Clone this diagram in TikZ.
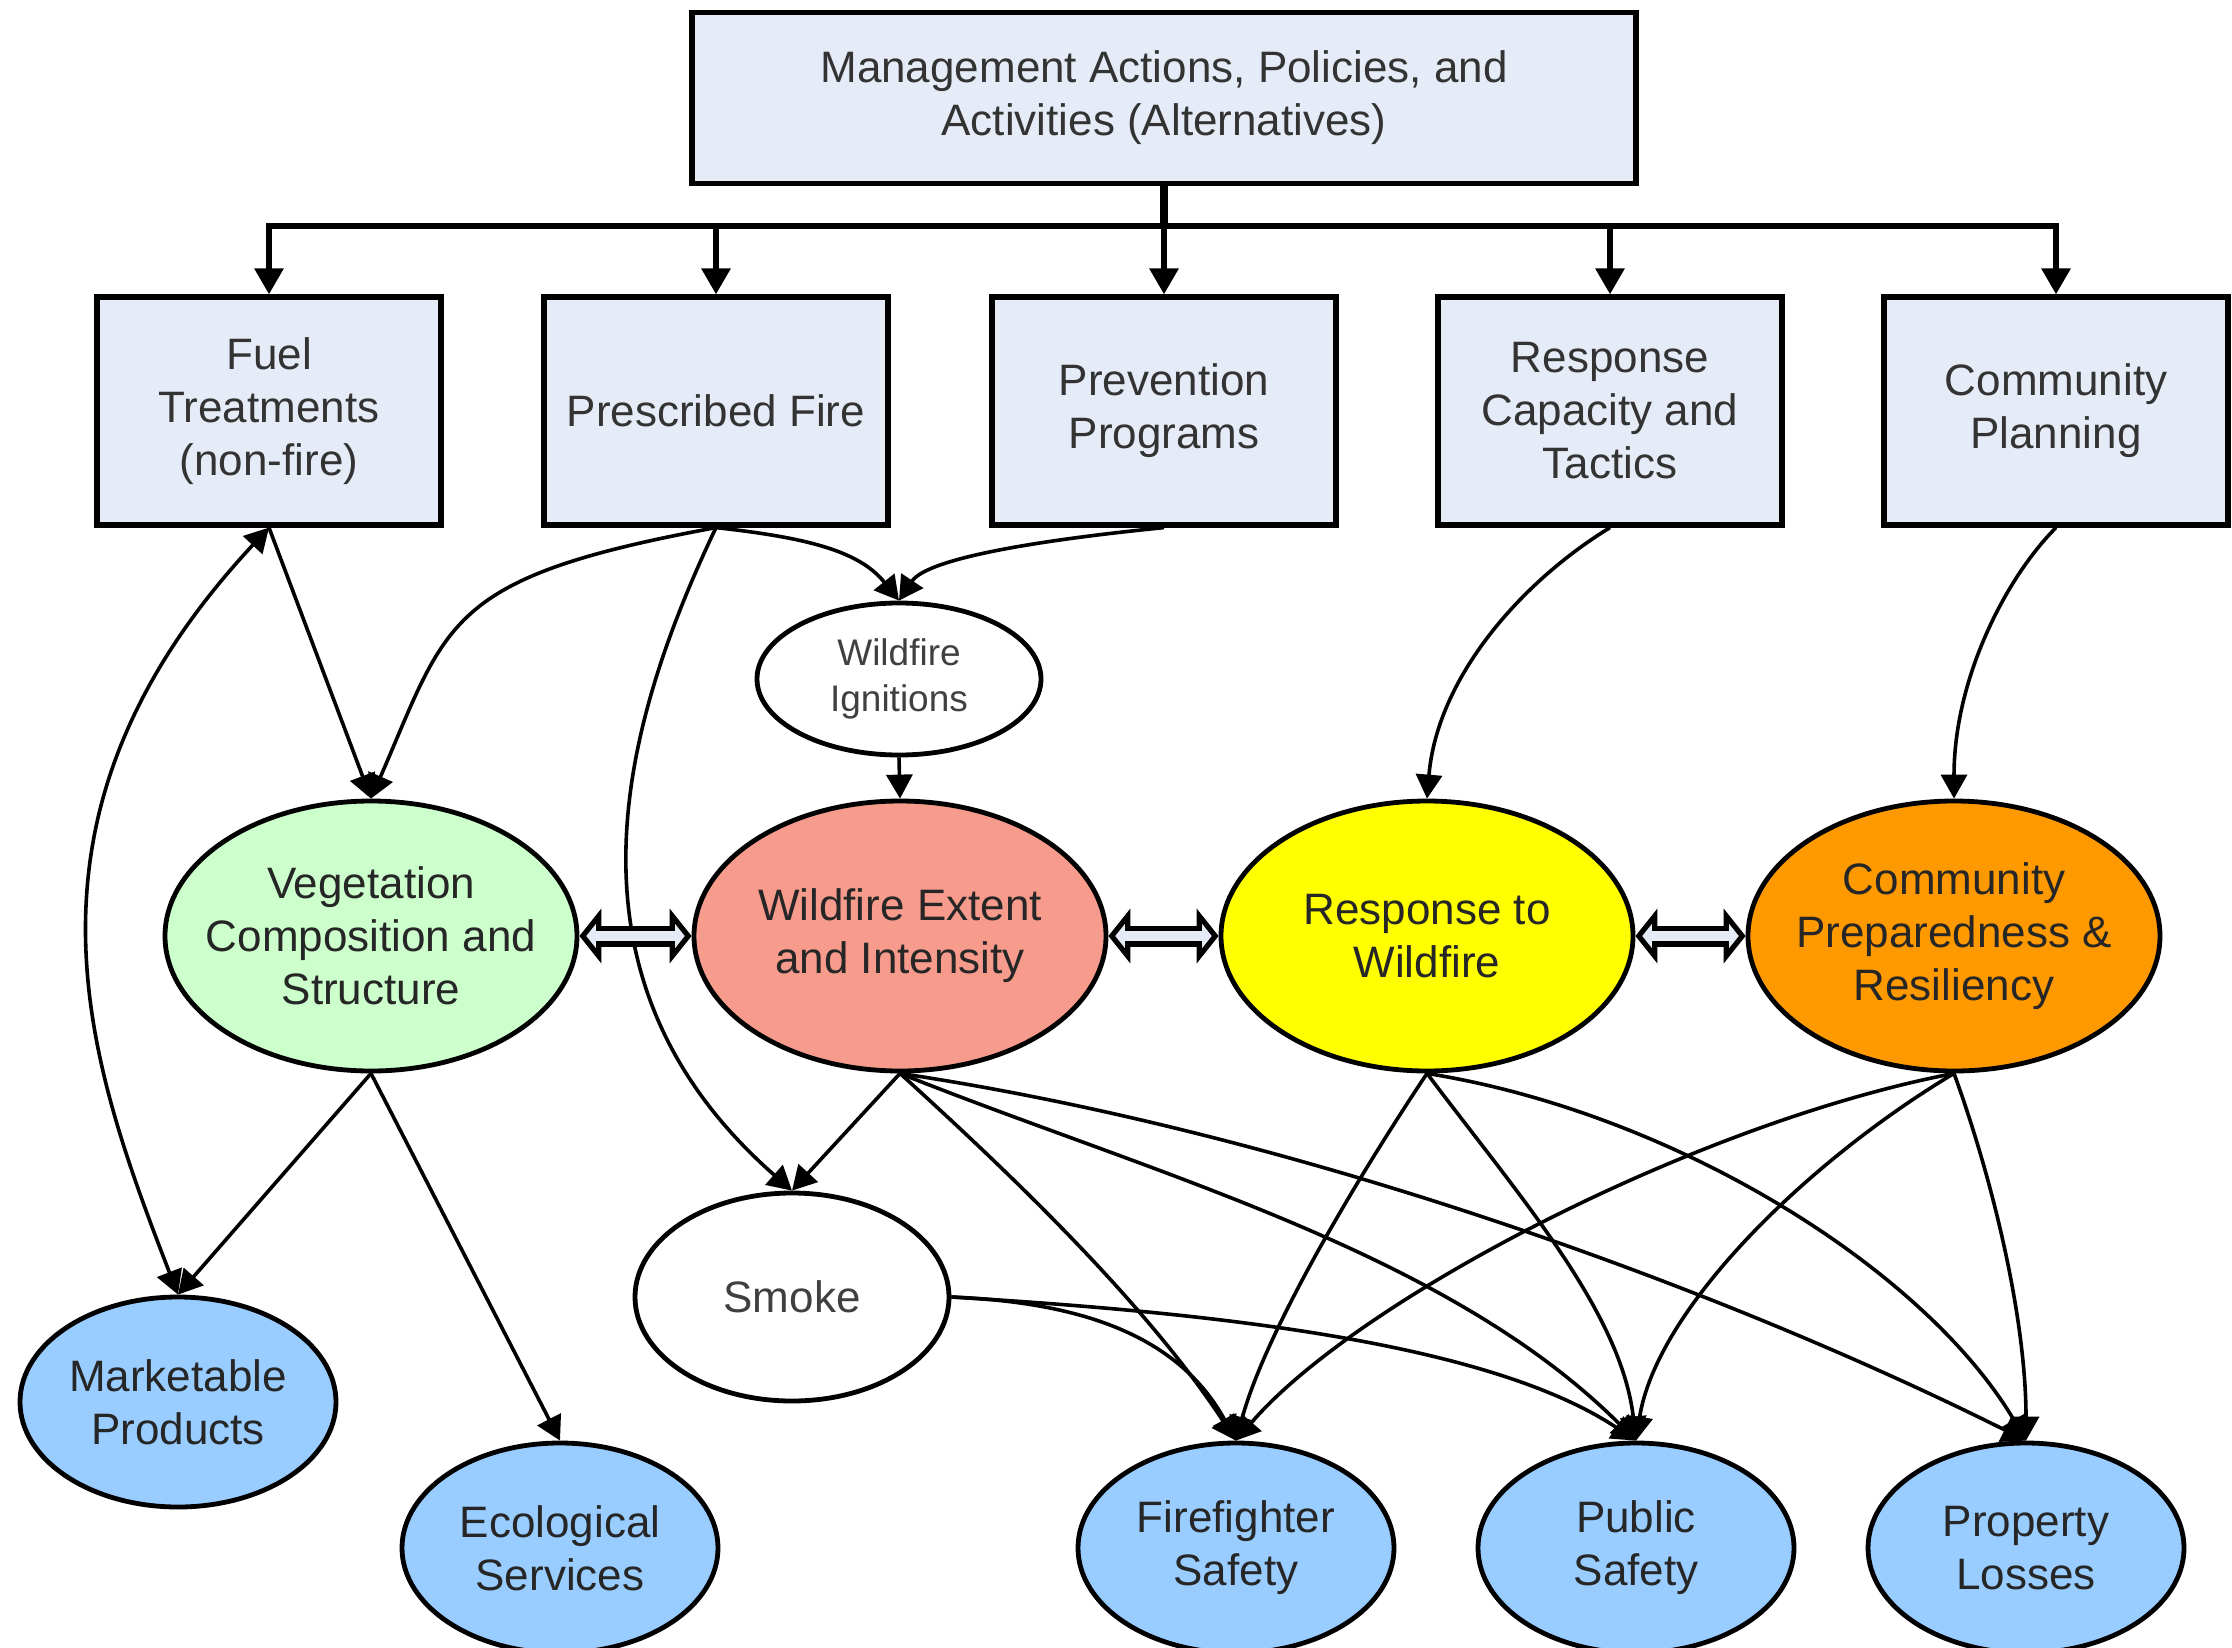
\documentclass[tikz,border=0pt]{standalone}
\usepackage{fontspec}
\setmainfont{Liberation Sans}
\usetikzlibrary{shapes.geometric,arrows.meta}

\definecolor{boxfill}{RGB}{230,236,247}
\definecolor{vegfill}{RGB}{204,255,204}
\definecolor{firefill}{RGB}{247,155,141}
\definecolor{respfill}{RGB}{255,255,0}
\definecolor{prepfill}{RGB}{255,153,0}
\definecolor{outfill}{RGB}{153,204,255}

\begin{document}
\begin{tikzpicture}[x=0.5pt,y=0.5pt,yscale=-1,xscale=1,
    actbox/.style={draw, line width=2.6pt, fill=boxfill, minimum width=172pt, minimum height=114pt,
        inner sep=0pt, align=center, text=black!80, font=\fontsize{22}{26.5}\selectfont},
    factor/.style={ellipse, draw, line width=2.4pt, minimum width=206pt, minimum height=135pt,
        inner xsep=-12pt, inner ysep=-10pt, align=center, text=black!85, font=\fontsize{22}{26.5}\selectfont},
    outcome/.style={factor, fill=outfill, minimum width=158pt, minimum height=105pt},
    link/.style={line width=1.8pt, -{Triangle[length=12pt,width=13pt]}},
    drop/.style={line width=3pt, -{Triangle[length=13pt,width=14pt]}},
    feedtip/.tip={Triangle[length=11pt,width=27pt,fill=boxfill,line width=2.6pt]},
    feedback/.style={line width=10.5pt, {feedtip}-{feedtip},
        postaction={draw=boxfill, line width=5pt, arrows=-, shorten <=6pt, shorten >=6pt}}]
    \useasboundingbox (0,0) rectangle (2232,1648);

    %Shape: Rectangle [top]
    \node [actbox, minimum width=472pt, minimum height=85.5pt] (top) at (1164,98)
        {Management Actions, Policies, and\\Activities (Alternatives)};
    %Shape: Rectangle [actions]
    \node [actbox] (fuel) at (269,411) {Fuel\\Treatments\\(non-fire)};
    \node [actbox] (presc) at (716,411) {Prescribed Fire};
    \node [actbox] (prev) at (1164,411) {Prevention\\Programs};
    \node [actbox] (resp) at (1610,411) {Response\\Capacity and\\Tactics};
    \node [actbox] (plan) at (2056,411) {Community\\Planning};

    %Shape: Ellipse [middle row]
    \node [factor, fill=white, minimum width=142pt, minimum height=76pt, text=black!75,
        font=\fontsize{18.5}{22.8}\selectfont] (ign) at (899,679) {Wildfire\\Ignitions};
    \node [factor, fill=vegfill] (veg) at (371,936) {Vegetation\\Composition and\\Structure};
    \node [factor, fill=firefill] (fire) at (900,936) {Wildfire Extent\\and Intensity};
    \node [factor, fill=respfill] (react) at (1427,936) {Response to\\Wildfire};
    \node [factor, fill=prepfill] (prep) at (1954,936) {Community\\Preparedness \&\\Resiliency};
    \node [factor, fill=white, minimum width=157pt, minimum height=104pt, text=black!75] (smoke) at (792,1297) {Smoke};

    %Shape: Ellipse [outcomes]
    \node [outcome] (market) at (178,1402) {Marketable\\Products};
    \node [outcome] (eco) at (560,1548) {Ecological\\Services};
    \node [outcome] (ffs) at (1236,1548) {Firefighter\\Safety};
    \node [outcome] (pubs) at (1636,1548) {Public\\Safety};
    \node [outcome] (prop) at (2026,1548) {Property\\Losses};

    %Straight Lines [tree]
    \coordinate (hub) at (1164,226);
    \draw [line width=4pt] (top.south) -- (hub);
    \foreach \b in {fuel,presc,prev,resp,plan}
        \draw [drop] (hub) -| (\b.north);

    %Curve Lines [actions to factors]
    \draw [link] (fuel.south) -- (veg.north);
    \draw [link, {Triangle[length=12pt,width=13pt]}-{Triangle[length=12pt,width=13pt]}]
        (market.north) .. controls +(-90,-233) and +(-270,290) .. (fuel.south);
    \draw [link] (presc.south) .. controls +(-272,50) and +(77,-177) .. (veg.north);
    \draw [link] (presc.south) .. controls +(90,10) and +(-40,-50) .. (ign.north);
    \draw [link] (prev.south) .. controls +(-100,10) and +(30,-45) .. (ign.north);
    \draw [link] (presc.south) .. controls +(-100,210) and +(-236,-207) .. (smoke.north);
    \draw [link] (ign.south) -- (fire.north);
    \draw [link] (resp.south) .. controls +(-90,55) and +(10,-120) .. (react.north);
    \draw [link] (plan.south) .. controls +(-50,50) and +(0,-120) .. (prep.north);

    %Straight Lines [feedback]
    \draw [feedback] (veg.east) -- (fire.west);
    \draw [feedback] (fire.east) -- (react.west);
    \draw [feedback] (react.east) -- (prep.west);

    %Curve Lines [factors to outcomes]
    \draw [link] (veg.south) -- (market.north);
    \draw [link] (veg.south) -- (eco.north);
    \draw [link] (fire.south) -- (smoke.north);
    \draw [link] (fire.south) .. controls +(118,107) and +(-88,-134) .. (ffs.north);
    \draw [link] (fire.south) .. controls +(250,100) and +(-190,-190) .. (pubs.north);
    \draw [link] (fire.south) .. controls +(400,60) and +(-300,-150) .. (prop.north);
    \draw [link] (smoke.east) .. controls +(120,5) and +(-60,-110) .. (ffs.north);
    \draw [link] (smoke.east) .. controls +(250,15) and +(-150,-100) .. (pubs.north);
    \draw [link] (react.south) .. controls +(-70,105) and +(30,-110) .. (ffs.north);
    \draw [link] (react.south) .. controls +(90,120) and +(-15,-130) .. (pubs.north);
    \draw [link] (react.south) .. controls +(250,40) and +(-100,-170) .. (prop.north);
    \draw [link] (prep.south) .. controls +(-260,50) and +(120,-140) .. (ffs.north);
    \draw [link] (prep.south) .. controls +(-150,90) and +(20,-130) .. (pubs.north);
    \draw [link] (prep.south) .. controls +(40,110) and +(0,-120) .. (prop.north);
\end{tikzpicture}
\end{document}
